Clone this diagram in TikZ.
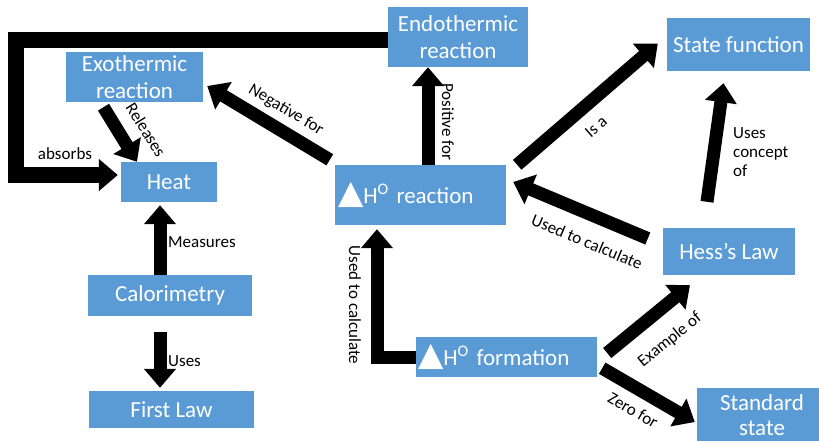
\documentclass[tikz,border=0pt]{standalone}
\usepackage{fontspec}
\setmainfont{Carlito}
\newfontfamily\symfont{DejaVu Sans}
\usetikzlibrary{arrows.meta,calc}
\definecolor{boxblue}{RGB}{91,155,213}
\newcommand{\dH}{{\symfont\fontsize{33}{28}\selectfont ▲}H\textsuperscript{O}}

\begin{document}
\begin{tikzpicture}[x=1pt, y=-1pt,
    box/.style={fill=boxblue, text=white, font=\fontsize{23}{27}\selectfont,
      align=center, inner sep=2pt},
    link/.style={line width=13pt, -{Triangle[width=31pt,length=19pt]}},
    lbl/.style={font=\fontsize{17}{19}\selectfont, inner sep=0pt}]
  \useasboundingbox (0,0) rectangle (819,440);
  \clip (0,0) rectangle (819,440);

  \node[box, minimum width=137pt, minimum height=50pt] (exo) at (134.5,77) {Exothermic\\reaction};
  \node[box, minimum width=96pt, minimum height=40pt] (heat) at (169,182) {Heat};
  \node[box, minimum width=140pt, minimum height=60pt] (endo) at (458,37) {Endothermic\\reaction};
  \node[box, minimum width=143pt, minimum height=53pt] (state) at (738.5,44.5) {State function};
  \node[box, minimum width=171pt, minimum height=60pt, text width=165pt, align=left,
    inner xsep=3pt] (react) at (420.5,195) {\dH{} reaction};
  \node[box, minimum width=164pt, minimum height=41pt] (calor) at (170,295.5) {Calorimetry};
  \node[box, minimum width=165pt, minimum height=37pt] (first) at (171.5,409.5) {First Law};
  \node[box, minimum width=132pt, minimum height=47pt] (hess) at (729,251.5) {Hess’s Law};
  \node[box, minimum width=181pt, minimum height=40pt, text width=177pt, align=left,
    inner xsep=2pt] (form) at (506.5,357) {\dH{} formation};
  \node[box, minimum width=130pt, minimum height=54pt, font=\fontsize{23}{25}\selectfont]
    (std) at (762,415) {Standard\\state};

  \draw[link, line width=16pt] ($(endo.west)+(0,3)$) -| ($(heat.west)+(-105,-7)$)
    -- ($(heat.west)+(-3,-7)$);
  \draw[link] ($(exo.south)+(-31,5)$) -- ($(heat.north)+(-32,0)$);
  \draw[link] ($(react.north west)+(-5,-5)$) -- ($(exo.east)+(4,9)$);
  \draw[link] ($(react.north)+(7.5,0)$) -- ($(endo.south)+(-30,0)$);
  \draw[link] ($(react.north east)+(11,0)$) -- ($(state.west)+(-9,-1)$);
  \draw[link] ($(hess.west)+(-15,-13)$) -- ($(react.east)+(7,-13)$);
  \draw[link] ($(hess.north)+(-22,-26)$) -- ($(state.south)+(-15,12)$);
  \draw[link] (form.west) -| ($(react.south)+(-43.5,4)$);
  \draw[link] ($(calor.north)+(-10,0)$) -- ($(heat.south)+(-9,3)$);
  \draw[link] ($(calor.south)+(-10,16)$) -- ($(first.north)+(-11.5,-3)$);
  \draw[link] ($(form.east)+(10,-4)$) -- ($(hess.south)+(-39,10)$);
  \draw[link] ($(form.south east)+(5,-9)$) -- ($(std.west)+(-2,7)$);

  \node[lbl] (absorbs) at (65,154) {absorbs};
  \node[lbl, rotate=-58] (releases) at (146,130) {Releases};
  \node[lbl, rotate=-31] (negative) at (286,110) {Negative for};
  \node[lbl, rotate=-90] (positive) at (448,122) {Positive for};
  \node[lbl, rotate=41] (isa) at (596,127) {Is a};
  \node[lbl, rotate=-22.5] (calchess) at (587,242) {Used to calculate};
  \node[lbl, align=left, anchor=west] (concept) at (733,152) {Uses\\concept\\of};
  \node[lbl, rotate=-90] (calcform) at (355,305) {Used to calculate};
  \node[lbl, anchor=west] (measures) at (168,242) {Measures};
  \node[lbl, anchor=west] (uses) at (168,361) {Uses};
  \node[lbl, rotate=39] (example) at (670,340) {Example of};
  \node[lbl, rotate=-30] (zero) at (633,410) {Zero for};
\end{tikzpicture}
\end{document}
